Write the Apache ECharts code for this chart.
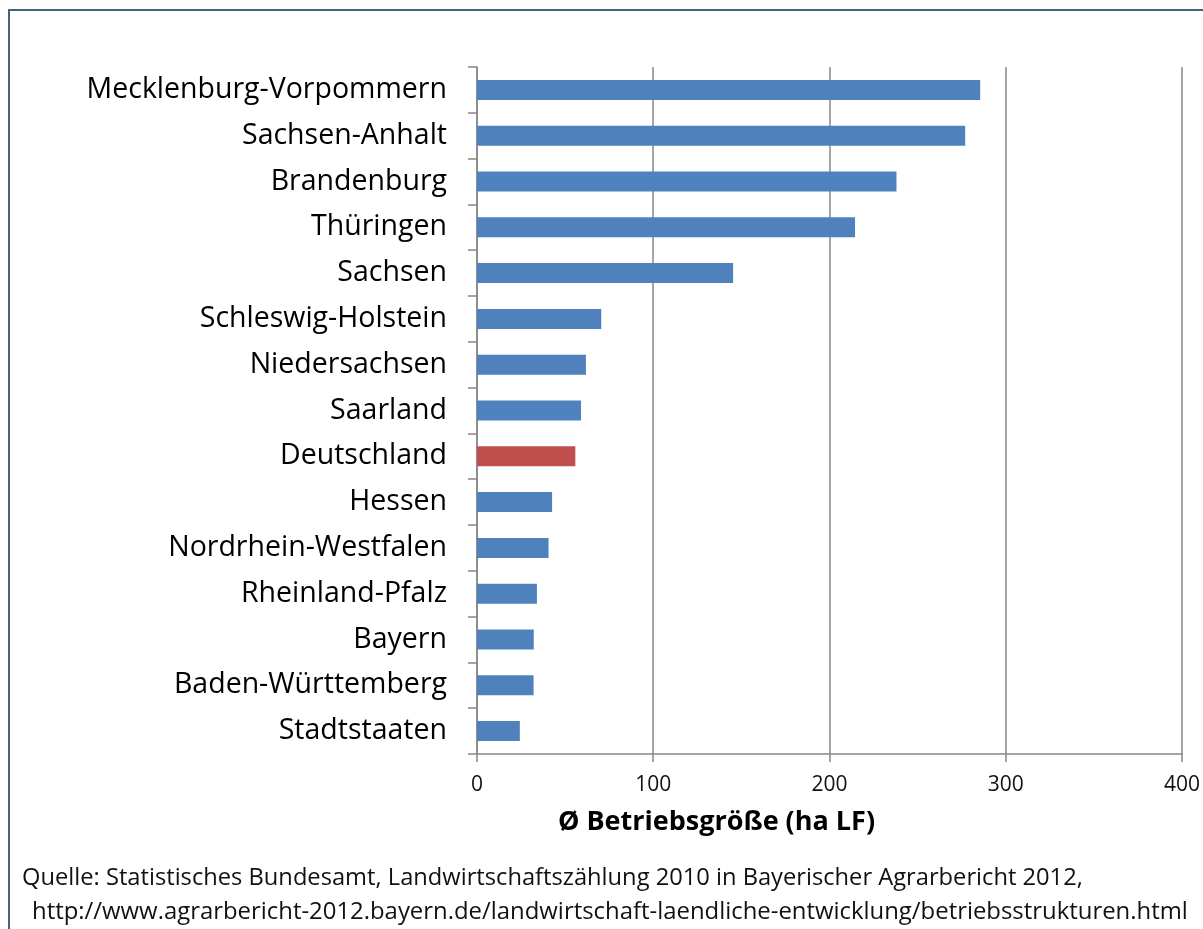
<!DOCTYPE html>
<html>
<head>
<meta charset="utf-8">
<title>Betriebsgröße nach Bundesland</title>
<script src="https://cdn.jsdelivr.net/npm/echarts@6/dist/echarts.min.js"></script>
<style>
    html, body { margin: 0; padding: 0; background: #fff; }
    #chart { width: 1203px; height: 929px; }
</style>
</head>
<body>
<div id="chart"></div>
<script>
// Durchschnittliche Betriebsgröße (ha LF), Landwirtschaftszählung 2010
const laender = [
    'Mecklenburg-Vorpommern', 'Sachsen-Anhalt', 'Brandenburg', 'Thüringen', 'Sachsen',
    'Schleswig-Holstein', 'Niedersachsen', 'Saarland', 'Deutschland', 'Hessen',
    'Nordrhein-Westfalen', 'Rheinland-Pfalz', 'Bayern', 'Baden-Württemberg', 'Stadtstaaten'
];
const groesse = [285.5, 277, 238, 214.5, 145.3, 70.5, 61.8, 59, 55.8, 42.6, 40.6, 34, 32.2, 32.1, 24.3];
const xTicks = [0, 100, 200, 300, 400];
const highlight = 'Deutschland';

const blue = '#4f81bd';
const red = '#c0504d';
const grey = '#878787';
const font = '"Open Sans", "Noto Sans", sans-serif';

const chart = echarts.init(document.getElementById('chart'), null, {renderer: 'canvas'});

chart.setOption({
    animation: false,
    grid: {left: 477, right: 20, top: 67, bottom: 175, containLabel: false},
    xAxis: {
        type: 'value',
        min: xTicks[0],
        max: xTicks[xTicks.length - 1],
        interval: xTicks[1] - xTicks[0],
        name: 'Ø Betriebsgröße (ha LF)',
        nameLocation: 'middle',
        nameGap: 55,
        nameTextStyle: {
            fontFamily: font, fontSize: 27, fontWeight: 'bold', color: '#000',
            padding: [0, 226, 0, 0]
        },
        axisLine: {show: true, lineStyle: {color: grey, width: 1.5}},
        axisTick: {show: true, length: 8, lineStyle: {color: grey, width: 1.5}},
        axisLabel: {fontFamily: font, fontSize: 21, color: '#111', margin: 21},
        splitLine: {show: true, lineStyle: {color: grey, width: 1.5}}
    },
    yAxis: {
        type: 'category',
        inverse: true,
        data: laender,
        axisLine: {show: true, lineStyle: {color: grey, width: 1.5}},
        axisTick: {show: true, length: 9, alignWithLabel: false, lineStyle: {color: grey, width: 1.5}},
        axisLabel: {fontFamily: font, fontSize: 28.5, color: '#000', margin: 30},
        splitLine: {show: false}
    },
    series: [{
        type: 'bar',
        barWidth: 20,
        data: groesse.map((v, i) => ({
            value: v,
            itemStyle: {color: laender[i] === highlight ? red : blue}
        }))
    }],
    graphic: [
        {
            type: 'rect',
            silent: true,
            shape: {x: 9, y: 10, width: 1220, height: 940},
            style: {fill: null, stroke: '#41667a', lineWidth: 2}
        },
        {
            type: 'text',
            left: 22,
            top: 866,
            style: {
                text: 'Quelle: Statistisches Bundesamt, Landwirtschaftszählung 2010 in Bayerischer Agrarbericht 2012,',
                font: '23.7px ' + font,
                fill: '#111'
            }
        },
        {
            type: 'text',
            left: 32,
            top: 900,
            style: {
                text: 'http://www.agrarbericht-2012.bayern.de/landwirtschaft-laendliche-entwicklung/betriebsstrukturen.html',
                font: '23.9px ' + font,
                fill: '#111'
            }
        }
    ]
});
</script>
</body>
</html>
